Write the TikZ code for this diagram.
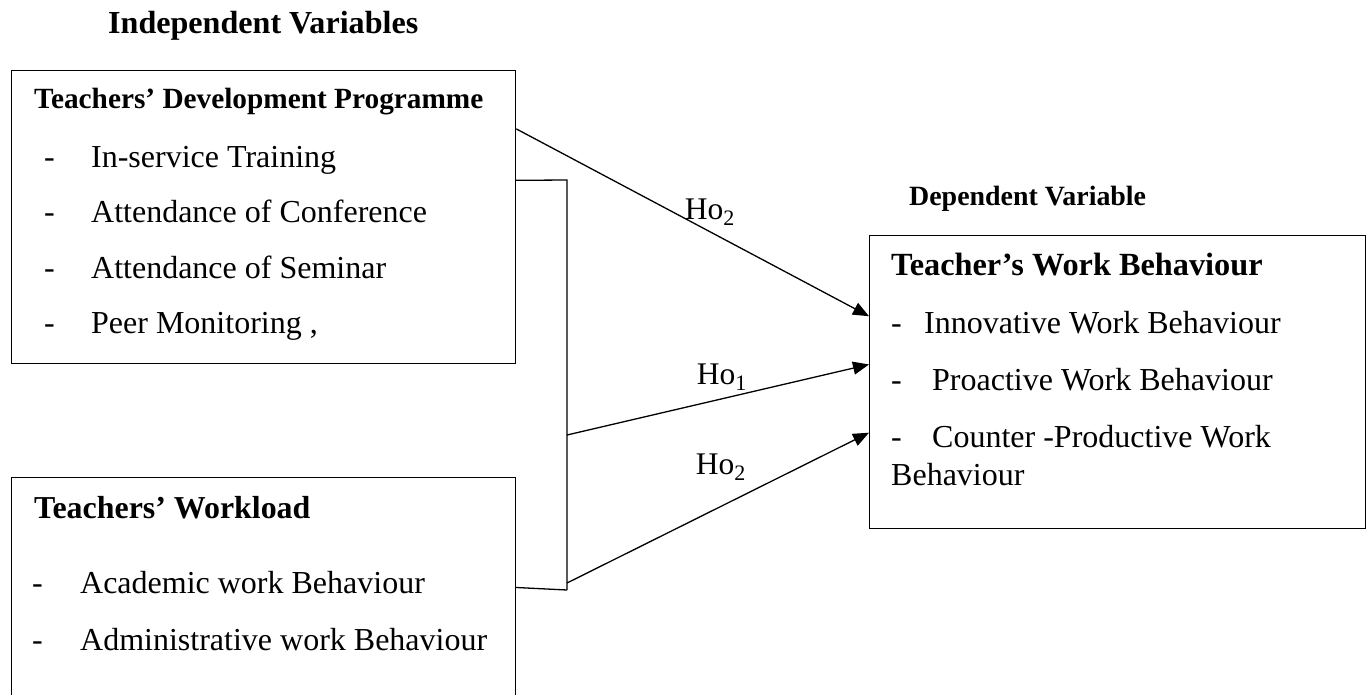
\documentclass[tikz,border=0pt]{standalone}
\usepackage{fontspec}
\setmainfont{Liberation Serif}
\usetikzlibrary{positioning,arrows.meta,calc}

% list entry: a dash, then the text at a fixed indent
\newcommand{\itm}[2]{\makebox[#1][l]{-}#2}

\begin{document}
\begin{tikzpicture}[x=1pt,y=-1pt,
    varbox/.style={draw,line width=1.2pt,rectangle,inner sep=0pt,anchor=north west},
    heading/.style={anchor=base west,inner sep=0pt,font=\fontsize{#1}{#1}\selectfont\bfseries},
    item/.style={anchor=base west,inner sep=0pt,font=\fontsize{32}{36}\selectfont},
    hyp/.style={-{Triangle[length=16pt,width=13pt]},line width=1.3pt},
    link/.style={line width=1.3pt},
    hlabel/.style={inner sep=0pt,font=\fontsize{31.5}{36}\selectfont}]
\clip (0,0) rectangle (1369,694);
\fill[white] (0,0) rectangle (1369,694);

% column headings
\node[heading=32.1] (indep) at (108,33) {Independent Variables};
\node[heading=27.9] (dep) at (909,205) {Dependent Variable};

% boxes
\node[varbox,minimum width=504pt,minimum height=293pt] (tdp) at (11,70) {};
\node[varbox,minimum width=504pt,minimum height=260pt] (twl) at (11,477) {};
\node[varbox,minimum width=496pt,minimum height=293pt] (twb) at (869,235) {};

% Teachers' Development Programme
\node[heading=29.3] (tdp-title) at (34,108) {Teachers' Development Programme};
\node[item] (tdp-a) at (44,167) {\itm{47pt}{In-service Training}};
\node[item] (tdp-b) at (44,222.5) {\itm{47pt}{Attendance of Conference}};
\node[item] (tdp-c) at (44,278) {\itm{47pt}{Attendance of Seminar}};
\node[item] (tdp-d) at (44,333.5) {\itm{47pt}{Peer Monitoring ,}};

% Teachers' Workload
\node[heading=31.9] (twl-title) at (34,518) {Teachers' Workload};
\node[item] (twl-a) at (32,593) {\itm{48pt}{Academic work Behaviour}};
\node[item] (twl-b) at (32,650) {\itm{48pt}{Administrative work Behaviour}};

% Teacher's Work Behaviour
\node[heading=32.3] (twb-title) at (891,275) {Teacher's Work Behaviour};
\node[item] (twb-a) at (891,333) {\itm{33pt}{Innovative Work Behaviour}};
\node[item] (twb-b) at (891,390) {\itm{41pt}{Proactive Work Behaviour}};
\node[item] (twb-c) at (891,447) {\itm{41pt}{Counter -Productive Work}};
\node[item] (twb-d) at (891,485) {Behaviour};

% joint bracket for both predictors
\coordinate (jtop) at (567,180);
\coordinate (jmid) at (567,435);
\coordinate (jbot) at (567,590);
\draw[link] ($(tdp.north east)!0.375!(tdp.south east)$) -- (jtop) -- (jbot);
\draw[link] ($(twl.north east)!0.423!(twl.south east)$) -- (jbot);

% hypotheses
\draw[hyp] ($(tdp.north east)!0.2!(tdp.south east)$) -- ($(twb.north west)!0.276!(twb.south west)$);
\draw[hyp] (jmid) -- ($(twb.north west)!0.44!(twb.south west)$);
\draw[hyp] ([yshift=7pt]jbot) -- ($(twb.north west)!0.672!(twb.south west)$);

\node[hlabel] (h2a) at (710,212) {Ho\textsubscript{2}};
\node[hlabel] (h1) at (722,377) {Ho\textsubscript{1}};
\node[hlabel] (h2b) at (721,467) {Ho\textsubscript{2}};
\end{tikzpicture}
\end{document}
